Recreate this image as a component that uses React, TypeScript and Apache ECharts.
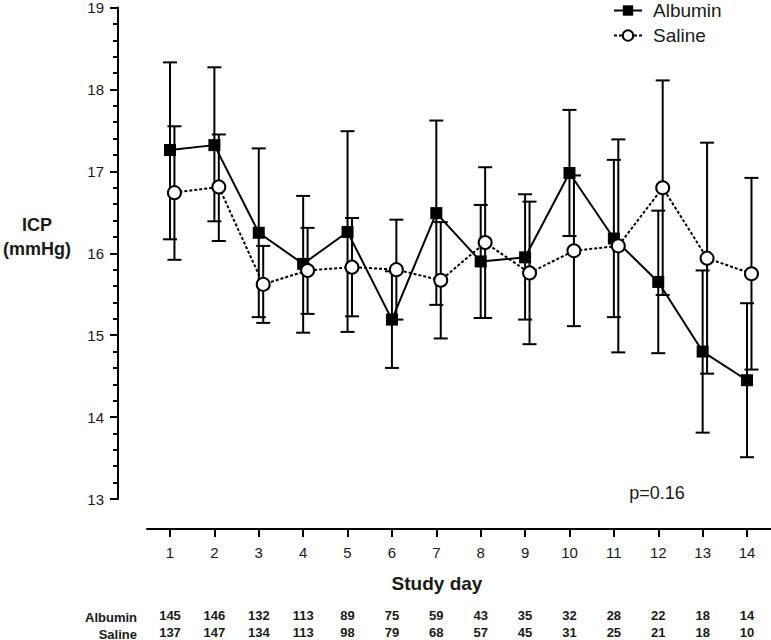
import React, { useEffect, useRef } from "react";
import * as echarts from "echarts";

const days = [1, 2, 3, 4, 5, 6, 7, 8, 9, 10, 11, 12, 13, 14];
const albuminMean = [17.26, 17.32, 16.25, 15.87, 16.26, 15.19, 16.49, 15.9, 15.95, 16.98, 16.18, 15.65, 14.8, 14.45];
const albuminLow = [16.17, 16.39, 15.22, 15.03, 15.04, 14.6, 15.37, 15.21, 15.19, 16.21, 15.22, 14.78, 13.81, 13.51];
const albuminHigh = [18.33, 18.27, 17.28, 16.7, 17.49, 15.78, 17.62, 16.59, 16.72, 17.75, 17.14, 16.52, 15.79, 15.39];
const salineMean = [16.74, 16.81, 15.62, 15.79, 15.83, 15.8, 15.67, 16.13, 15.76, 16.03, 16.09, 16.8, 15.94, 15.75];
const salineLow = [15.92, 16.15, 15.15, 15.26, 15.23, 15.19, 14.96, 15.21, 14.89, 15.11, 14.79, 15.49, 14.53, 14.58];
const salineHigh = [17.55, 17.45, 16.09, 16.31, 16.43, 16.41, 16.38, 17.05, 16.63, 16.95, 17.39, 18.11, 17.35, 16.92];
const albuminN = [145, 146, 132, 113, 89, 75, 59, 43, 35, 32, 28, 22, 18, 14];
const salineN = [137, 147, 134, 113, 98, 79, 68, 57, 45, 31, 25, 21, 18, 10];
const salineShift = 0.1;

const FONT = "'Liberation Sans', Arial, Helvetica, sans-serif";
const TXT = "#1a1a1a";

export default function App() {
  const ref = useRef<HTMLDivElement>(null);
  useEffect(() => {
    const chart = echarts.init(ref.current!, null, { renderer: "svg" });
    const xMin = 0.482;
    const xMax = 14.54;

    const errRender = (params: any, api: any) => {
      const x = api.value(0);
      const lo = api.coord([x, api.value(1)]);
      const hi = api.coord([x, api.value(2)]);
      const hw = 7;
      const st = { stroke: "#000", lineWidth: 2 };
      return {
        type: "group",
        children: [
          { type: "line", shape: { x1: lo[0], y1: lo[1], x2: hi[0], y2: hi[1] }, style: st },
          { type: "line", shape: { x1: lo[0] - hw, y1: lo[1], x2: lo[0] + hw, y2: lo[1] }, style: st },
          { type: "line", shape: { x1: hi[0] - hw, y1: hi[1], x2: hi[0] + hw, y2: hi[1] }, style: st },
        ],
      };
    };

    const tableAxis = (counts: number[], offset: number) => ({
      type: "value",
      min: xMin,
      max: xMax,
      position: "bottom",
      offset,
      axisLine: { show: false },
      axisTick: { show: false },
      splitLine: { show: false },
      axisLabel: {
        customValues: days,
        margin: 0,
        fontFamily: FONT,
        fontWeight: "bold",
        fontSize: 13,
        color: TXT,
        formatter: (v: number) => String(counts[Math.round(v) - 1]),
      },
    });

    chart.setOption({
      animation: false,
      grid: { left: 147, right: 0, top: 7, bottom: 141 },
      legend: {
        orient: "vertical",
        left: 613,
        top: 1,
        padding: 0,
        itemWidth: 28,
        itemHeight: 13,
        itemGap: 6,
        data: ["Albumin", "Saline"],
        textStyle: { fontFamily: FONT, fontSize: 19, color: TXT, padding: [0, 0, 0, 6] },
      },
      xAxis: [
        {
          type: "value",
          min: xMin,
          max: xMax,
          position: "bottom",
          offset: 30,
          axisLine: { show: true, lineStyle: { color: "#000", width: 2 } },
          axisTick: { show: true, customValues: days, length: 8, lineStyle: { color: "#000", width: 2 } },
          splitLine: { show: false },
          axisLabel: {
            customValues: days,
            margin: 16,
            fontFamily: FONT,
            fontSize: 15,
            color: TXT,
            formatter: (v: number) => String(Math.round(v)),
          },
        },
        tableAxis(albuminN, 110),
        tableAxis(salineN, 127),
      ],
      yAxis: {
        type: "value",
        min: 13,
        max: 19,
        interval: 1,
        offset: 29,
        axisLine: { show: true, lineStyle: { color: "#000", width: 2 } },
        axisTick: { show: true, length: 8, lineStyle: { color: "#000", width: 2 } },
        minorTick: { show: true, splitNumber: 5, length: 5, lineStyle: { color: "#000", width: 2 } },
        splitLine: { show: false },
        axisLabel: { margin: 14, fontFamily: FONT, fontSize: 15, color: TXT },
      },
      graphic: [
        {
          type: "text",
          style: {
            x: 37,
            y: 237,
            text: "ICP\n(mmHg)",
            align: "center",
            verticalAlign: "middle",
            lineHeight: 24,
            font: `bold 18px ${FONT}`,
            fill: TXT,
          },
        },
        {
          type: "text",
          style: {
            x: 437,
            y: 583,
            text: "Study day",
            align: "center",
            verticalAlign: "middle",
            font: `bold 19px ${FONT}`,
            fill: TXT,
          },
        },
        {
          type: "text",
          style: {
            x: 657,
            y: 493,
            text: "p=0.16",
            align: "center",
            verticalAlign: "middle",
            font: `18px ${FONT}`,
            fill: TXT,
          },
        },
        {
          type: "text",
          style: {
            x: 137,
            y: 617,
            text: "Albumin",
            align: "right",
            verticalAlign: "middle",
            font: `bold 13px ${FONT}`,
            fill: TXT,
          },
        },
        {
          type: "text",
          style: {
            x: 137,
            y: 634,
            text: "Saline",
            align: "right",
            verticalAlign: "middle",
            font: `bold 13px ${FONT}`,
            fill: TXT,
          },
        },
      ],
      series: [
        {
          name: "AlbuminErr",
          type: "custom",
          xAxisIndex: 0,
          z: 1,
          renderItem: errRender,
          data: days.map((d, i) => [d, albuminLow[i], albuminHigh[i]]),
        },
        {
          name: "SalineErr",
          type: "custom",
          xAxisIndex: 0,
          z: 1,
          renderItem: errRender,
          data: days.map((d, i) => [d + salineShift, salineLow[i], salineHigh[i]]),
        },
        {
          name: "Albumin",
          type: "line",
          xAxisIndex: 0,
          z: 3,
          symbol: "rect",
          symbolSize: 12,
          lineStyle: { color: "#000", width: 2 },
          itemStyle: { color: "#000" },
          data: days.map((d, i) => [d, albuminMean[i]]),
        },
        {
          name: "Saline",
          type: "line",
          xAxisIndex: 0,
          z: 4,
          symbol: "circle",
          symbolSize: 13,
          lineStyle: { color: "#000", width: 2, type: [3, 2] },
          itemStyle: { color: "#fff", borderColor: "#000", borderWidth: 2 },
          data: days.map((d, i) => [d + salineShift, salineMean[i]]),
        },
      ],
    });
    return () => chart.dispose();
  }, []);
  return (
    <div
      ref={ref}
      style={{ position: "absolute", left: 0, top: 0, width: 771, height: 640, background: "#fff" }}
    />
  );
}
